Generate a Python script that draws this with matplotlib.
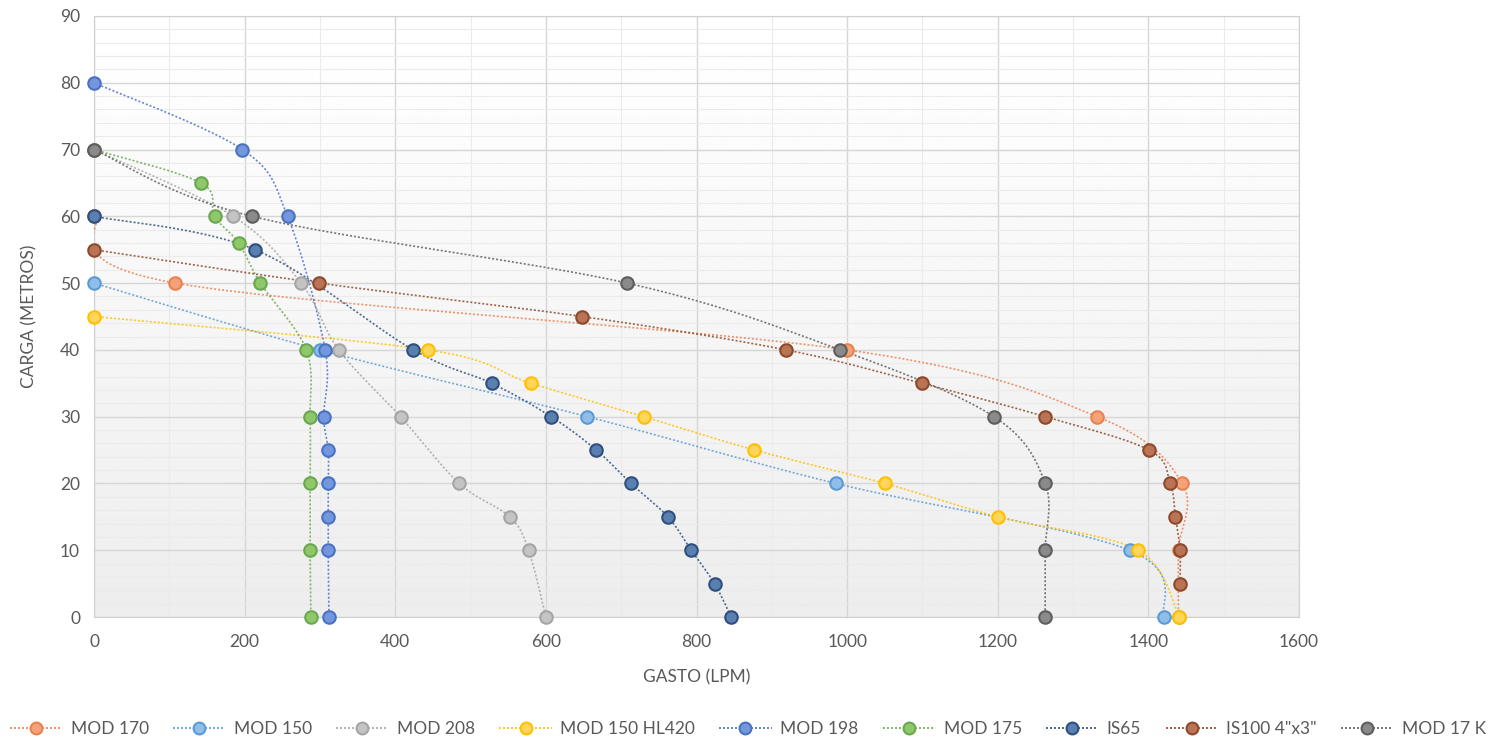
import numpy as np
import matplotlib
matplotlib.use("Agg")
import matplotlib.pyplot as plt
from matplotlib.ticker import MultipleLocator

plt.rcParams["font.family"] = ["Lato", "DejaVu Sans"]

# Pump curves: GASTO (LPM) vs CARGA (METROS)
mod170_x = [0, 108, 1000, 1332, 1445, 1440, 1440]
mod170_y = [60, 50, 40, 30, 20, 10, 0]
mod150_x = [0, 300, 655, 985, 1375, 1421]
mod150_y = [50, 40, 30, 20, 10, 0]
mod208_x = [0, 185, 275, 325, 407, 485, 552, 577, 600]
mod208_y = [70, 60, 50, 40, 30, 20, 15, 10, 0]
hl420_x = [0, 443, 580, 730, 877, 1050, 1200, 1386, 1441]
hl420_y = [45, 40, 35, 30, 25, 20, 15, 10, 0]
mod198_x = [0, 197, 257, 307, 305, 311, 311, 311, 311, 312]
mod198_y = [80, 70, 60, 40, 30, 25, 20, 15, 10, 0]
mod175_x = [0, 142, 160, 192, 221, 282, 287, 287, 287, 288]
mod175_y = [70, 65, 60, 56, 50, 40, 30, 20, 10, 0]
is65_x = [0, 214, 424, 528, 607, 667, 713, 762, 793, 824, 846]
is65_y = [60, 55, 40, 35, 30, 25, 20, 15, 10, 5, 0]
is100_x = [0, 299, 648, 919, 1099, 1263, 1401, 1429, 1436, 1442, 1442]
is100_y = [55, 50, 45, 40, 35, 30, 25, 20, 15, 10, 5]
mod17k_x = [0, 210, 708, 991, 1195, 1263, 1263, 1263]
mod17k_y = [70, 60, 50, 40, 30, 20, 10, 0]

series = [
    ("MOD 170", mod170_x, mod170_y, "#f4a27a", "#e9824f"),
    ("MOD 150", mod150_x, mod150_y, "#8fbfe8", "#5b9bd5"),
    ("MOD 208", mod208_x, mod208_y, "#c4c4c4", "#a5a5a5"),
    ("MOD 150 HL420", hl420_x, hl420_y, "#ffd55c", "#ffc000"),
    ("MOD 198", mod198_x, mod198_y, "#7396dc", "#4a72c4"),
    ("MOD 175", mod175_x, mod175_y, "#8fc86a", "#6aa84f"),
    ("IS65", is65_x, is65_y, "#5a80b0", "#2f4f7f"),
    ("IS100 4\"x3\"", is100_x, is100_y, "#bb7356", "#8c4a2c"),
    ("MOD 17 K", mod17k_x, mod17k_y, "#8a8a8a", "#5e5e5e"),
]


def smooth(xs, ys, n=24):
    # Catmull-Rom curve through the points, like Excel's smoothed line
    p = np.column_stack([xs, ys]).astype(float)
    p = np.vstack([p[0], p, p[-1]])
    t = np.linspace(0, 1, n, endpoint=False)[:, None]
    out = []
    for i in range(1, len(p) - 2):
        p0, p1, p2, p3 = p[i - 1], p[i], p[i + 1], p[i + 2]
        out.append(0.5 * (2 * p1 + (-p0 + p2) * t
                          + (2 * p0 - 5 * p1 + 4 * p2 - p3) * t ** 2
                          + (-p0 + 3 * p1 - 3 * p2 + p3) * t ** 3))
    out.append(p[-2][None])
    c = np.vstack(out)
    return c[:, 0], c[:, 1]


fig = plt.figure(figsize=(14.96, 7.42), dpi=100)
ax = fig.add_axes([94 / 1496, 1 - 617 / 742, 1205 / 1496, 601 / 742])

# gradient plot area
grad = np.linspace(1.0, 0.93, 256)[:, None]
ax.imshow(grad, cmap="gray", vmin=0, vmax=1, extent=[0, 1, 0, 1],
          transform=ax.transAxes, aspect="auto", zorder=0)

ax.set_xlim(0, 1600)
ax.set_ylim(0, 90)
ax.xaxis.set_major_locator(MultipleLocator(200))
ax.xaxis.set_minor_locator(MultipleLocator(100))
ax.yaxis.set_major_locator(MultipleLocator(10))
ax.yaxis.set_minor_locator(MultipleLocator(2))
ax.grid(which="major", color="#d6d6d6", linewidth=1.0, zorder=1)
ax.grid(which="minor", color="#ebebeb", linewidth=0.8, zorder=1)
ax.set_axisbelow(True)
for s in ax.spines.values():
    s.set_color("#d0d0d0")
ax.tick_params(which="both", length=0, labelsize=12.5, colors="#595959", pad=10)
ax.tick_params(axis="x", pad=12)

for name, xs, ys, fc, ec in series:
    sx, sy = smooth(xs, ys)
    ax.plot(sx, sy, color=ec, linestyle=(0, (1.2, 1.2)), linewidth=1.2,
            alpha=0.85, zorder=3)
    ax.plot(xs, ys, linestyle="none", marker="o", markersize=9,
            markerfacecolor=fc, markeredgecolor=ec, markeredgewidth=1.5,
            zorder=4, clip_on=False)

ax.set_xlabel("GASTO (LPM)", fontsize=12.5, color="#595959", labelpad=14)
ax.set_ylabel("CARGA (METROS)", fontsize=12.5, color="#595959", labelpad=16)

handles = []
for name, xs, ys, fc, ec in series:
    h, = ax.plot([], [], color=ec, linestyle=(0, (1.2, 1.2)), linewidth=1.2,
                 marker="o", markersize=8.5, markerfacecolor=fc,
                 markeredgecolor=ec, markeredgewidth=1.5, label=name)
    handles.append(h)
fig.legend(handles=handles, loc="center", bbox_to_anchor=(0.5, 1 - 729 / 742),
           ncol=9, frameon=False, fontsize=12.5, handlelength=3.0,
           columnspacing=1.4, handletextpad=0.5, labelcolor="#595959",
           borderaxespad=0, borderpad=0)

fig.savefig("out.png", dpi=100)
